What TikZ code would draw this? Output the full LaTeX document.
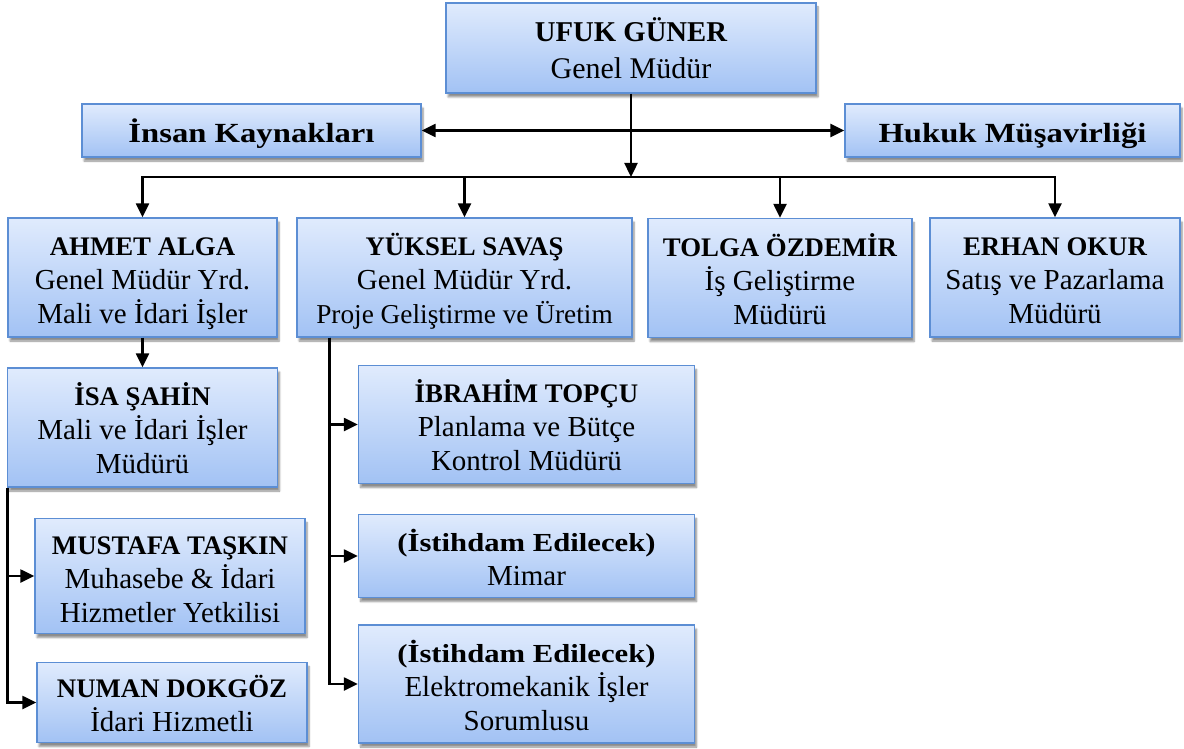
\documentclass[tikz,border=0pt]{standalone}
\usepackage{fontspec}
\setmainfont{Liberation Serif}
\newfontfamily\widefont{Liberation Serif}[FakeStretch=1.18]
\usetikzlibrary{arrows.meta,shadows.blur}
\definecolor{boxtop}{RGB}{224,235,253}
\definecolor{boxbot}{RGB}{162,194,244}
\definecolor{boxline}{RGB}{92,142,212}
\newcommand{\topstrut}{\rule{0pt}{32pt}}
\newcommand{\botstrut}{\rule[-8pt]{0pt}{8pt}}
\tikzset{
  box/.style={draw=boxline, line width=1.4pt, top color=boxtop, bottom color=boxbot,
    align=center, inner sep=0pt, font=\fontsize{29}{34}\selectfont,
    blur shadow={shadow xshift=2pt, shadow yshift=-4pt, shadow blur steps=6, shadow opacity=45}},
  conn/.style={line width=2.4pt, draw=black},
  arr/.style={conn, -{Triangle[length=14pt,width=13pt]}},
  darr/.style={conn, {Triangle[length=14pt,width=13pt]}-{Triangle[length=14pt,width=13pt]}},
}
\newcommand{\nm}[1]{{\topstrut\fontsize{26.8}{34}\selectfont\bfseries #1}}
\newcommand{\wb}[1]{{\topstrut\widefont\bfseries #1}}
\newcommand{\lastl}[1]{#1\botstrut}
\begin{document}
\begin{tikzpicture}[x=1pt,y=-1pt]
\useasboundingbox (0,0) rectangle (1184,749);
% nodes
\node[box, minimum width=370, minimum height=90, font=\fontsize{30}{37}\selectfont] (ufuk) at (631,48) {{\topstrut\fontsize{28.7}{37}\selectfont\bfseries UFUK GÜNER}\\\lastl{Genel Müdür}};
\node[box, minimum width=339, minimum height=53, font=\fontsize{27.7}{34}\selectfont] (insan) at (251.5,130.5) {\lastl{\wb{İnsan Kaynakları}}};
\node[box, minimum width=335, minimum height=53, font=\fontsize{27.7}{34}\selectfont] (hukuk) at (1012.5,130.5) {\lastl{\wb{Hukuk Müşavirliği}}};
\node[box, minimum width=269, minimum height=119] (ahmet) at (142.5,277.5) {\nm{AHMET ALGA}\\Genel Müdür Yrd.\\\lastl{Mali ve İdari İşler}};
\node[box, minimum width=335, minimum height=119] (yuksel) at (464.5,277.5) {\nm{YÜKSEL SAVAŞ}\\Genel Müdür Yrd.\\\lastl{{\fontsize{27.3}{32}\selectfont Proje Geliştirme ve Üretim}}};
\node[box, minimum width=264, minimum height=119] (tolga) at (780,278) {\nm{TOLGA ÖZDEMİR}\\İş Geliştirme\\\lastl{Müdürü}};
\node[box, minimum width=250, minimum height=119] (erhan) at (1055,277.5) {\nm{ERHAN OKUR}\\Satış ve Pazarlama\\\lastl{Müdürü}};
\node[box, minimum width=270, minimum height=119] (isa) at (142.5,427.5) {\nm{İSA ŞAHİN}\\Mali ve İdari İşler\\\lastl{Müdürü}};
\node[box, minimum width=270, minimum height=115] (mustafa) at (170,576) {\nm{MUSTAFA TAŞKIN}\\Muhasebe \& İdari\\\lastl{Hizmetler Yetkilisi}};
\node[box, minimum width=270, minimum height=80] (numan) at (172,702.5) {\nm{NUMAN DOKGÖZ}\\\lastl{İdari Hizmetli}};
\node[box, minimum width=336, minimum height=118] (ibrahim) at (526.5,424.5) {\nm{İBRAHİM TOPÇU}\\Planlama ve Bütçe\\\lastl{Kontrol Müdürü}};
\node[box, minimum width=336, minimum height=83] (mimar) at (526.5,556) {{\fontsize{26}{34}\selectfont\wb{(İstihdam Edilecek)}}\\\lastl{Mimar}};
\node[box, minimum width=336, minimum height=118] (elektro) at (526.5,684) {{\fontsize{26}{34}\selectfont\wb{(İstihdam Edilecek)}}\\Elektromekanik İşler\\\lastl{Sorumlusu}};
% connectors
\coordinate (bus) at (631,177);
\draw[darr] (insan.east) -- (hukuk.west);
\draw[arr] (ufuk.south) -- (bus);
\draw[arr] (bus) -| (ahmet.north);
\draw[arr] (bus) -| (yuksel.north);
\draw[arr] (bus) -| (tolga.north);
\draw[arr] (bus) -| (erhan.north);
\draw[arr] (ahmet.south) -- (isa.north);
\coordinate (ltrunk) at ([xshift=0.7pt]isa.south west);
\draw[arr] (ltrunk) |- (mustafa.west);
\draw[arr] (ltrunk) |- (numan.west);
\coordinate (rtrunk) at ([xshift=33pt]yuksel.south west);
\draw[arr] (rtrunk) |- (ibrahim.west);
\draw[arr] (rtrunk) |- (mimar.west);
\draw[arr] (rtrunk) |- (elektro.west);
\end{tikzpicture}
\end{document}
